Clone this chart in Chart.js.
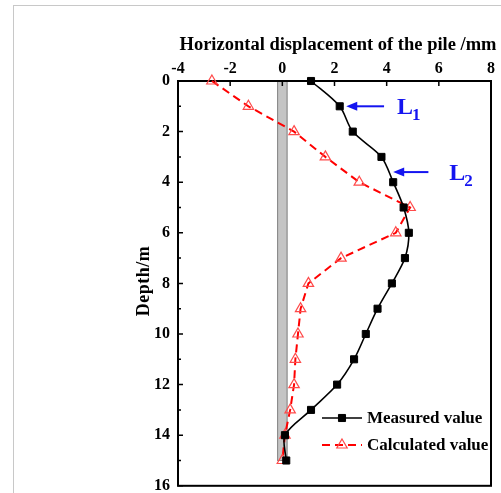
<!DOCTYPE html>
<html>
<head>
<meta charset="utf-8">
<script src="https://cdn.jsdelivr.net/npm/chart.js@4.4.1/dist/chart.umd.min.js"></script>
<style>
  html, body { margin: 0; padding: 0; background: #fff; }
  #wrap { position: relative; width: 501px; height: 493px; overflow: hidden; }
  #frame { position: absolute; left: 13px; top: 5px; width: 600px; height: 600px; border: 1px solid #c8c8c8; }
  #pile { position: absolute; left: 0; top: 0; }
</style>
</head>
<body>
<div id="wrap">
  <div id="frame"></div>
  <canvas id="pile" width="501" height="493"></canvas>
</div>
<script>
// depth below ground (m) and horizontal displacement (mm)
const depths = [0, 1, 2, 3, 4, 5, 6, 7, 8, 9, 10, 11, 12, 13, 14, 15];
const measured = [1.1, 2.2, 2.7, 3.8, 4.25, 4.65, 4.85, 4.7, 4.2, 3.65, 3.2, 2.75, 2.1, 1.1, 0.1, 0.15];
const calculated = [-2.7, -1.3, 0.45, 1.65, 2.95, 4.9, 4.35, 2.25, 1.0, 0.7, 0.6, 0.5, 0.45, 0.3, 0.1, 0.0];

// pile body: x extent (mm units) and depth extent (m)
const pileX = [-0.2, 0.2];
const pileDepth = [0, 15];

const seriesNames = ['Measured value', 'Calculated value'];

// arrows pointing at the two reference depths
const arrowNotes = [
  { sub: '1', depth: 1.0, tipX: 2.45, tailX: 3.9, labelX: 4.4 },
  { sub: '2', depth: 3.6, tipX: 4.25, tailX: 5.6, labelX: 6.4 },
];

const SERIF = '"Liberation Serif", "Times New Roman", serif';
const toPoints = (xs) => xs.map((v, i) => ({ x: v, y: depths[i] }));

const pileBand = {
  id: 'pileBand',
  beforeDatasetsDraw(chart) {
    const { ctx, chartArea: a, scales: { x, y } } = chart;
    const l = x.getPixelForValue(pileX[0]);
    const r = x.getPixelForValue(pileX[1]);
    const t = y.getPixelForValue(pileDepth[0]);
    const b = y.getPixelForValue(pileDepth[1]);
    ctx.save();
    ctx.fillStyle = '#c4c4c4';
    ctx.fillRect(l, t, r - l, b - t);
    ctx.strokeStyle = '#858585';
    ctx.lineWidth = 1;
    ctx.strokeRect(l + 0.5, t, r - l - 1, b - t);

    // box frame
    ctx.strokeStyle = '#000';
    ctx.lineWidth = 2;
    ctx.strokeRect(a.left, a.top, a.right - a.left, a.bottom - a.top);

    // inward tick marks
    ctx.lineWidth = 1.5;
    ctx.beginPath();
    x.ticks.forEach((tk) => {
      const px = x.getPixelForValue(tk.value);
      ctx.moveTo(px, a.top);
      ctx.lineTo(px, a.top + 5);
    });
    y.ticks.forEach((tk) => {
      const py = y.getPixelForValue(tk.value);
      const len = tk.value % 2 === 0 ? 5 : 3;
      ctx.moveTo(a.left, py);
      ctx.lineTo(a.left + len, py);
    });
    ctx.stroke();
    ctx.restore();
  },
};

const decorations = {
  id: 'decorations',
  afterDraw(chart) {
    const { ctx, scales: { x, y } } = chart;
    ctx.save();

    // axis titles
    ctx.fillStyle = '#000';
    ctx.font = 'bold 18.5px ' + SERIF;
    ctx.textAlign = 'center';
    ctx.textBaseline = 'middle';
    ctx.fillText('Horizontal displacement of the pile /mm', 338, 45);

    ctx.save();
    ctx.translate(144, 281);
    ctx.rotate(-Math.PI / 2);
    ctx.font = 'bold 18px ' + SERIF;
    ctx.letterSpacing = '0.5px';
    ctx.fillText('Depth/m', 0, 0);
    ctx.restore();

    // L1 / L2 arrows
    const blue = '#1414f0';
    arrowNotes.forEach((n) => {
      const py = y.getPixelForValue(n.depth);
      const tip = x.getPixelForValue(n.tipX);
      const tail = x.getPixelForValue(n.tailX);
      ctx.strokeStyle = blue;
      ctx.fillStyle = blue;
      ctx.lineWidth = 2;
      ctx.beginPath();
      ctx.moveTo(tail, py);
      ctx.lineTo(tip + 8, py);
      ctx.stroke();
      ctx.beginPath();
      ctx.moveTo(tip, py);
      ctx.lineTo(tip + 11, py - 4.5);
      ctx.lineTo(tip + 11, py + 4.5);
      ctx.closePath();
      ctx.fill();

      const lx = x.getPixelForValue(n.labelX);
      ctx.textAlign = 'left';
      ctx.textBaseline = 'alphabetic';
      ctx.font = 'bold 24px ' + SERIF;
      ctx.fillText('L', lx, py + 8);
      const w = ctx.measureText('L').width;
      ctx.font = 'bold 17px ' + SERIF;
      ctx.fillText(n.sub, lx + w - 1, py + 14);
    });

    // legend
    const rows = [
      { ds: chart.data.datasets[0], y: 418 },
      { ds: chart.data.datasets[1], y: 445 },
    ];
    rows.forEach((row) => {
      const ds = row.ds;
      ctx.strokeStyle = ds.borderColor;
      ctx.lineWidth = ds.borderWidth;
      ctx.setLineDash(ds.borderDash || []);
      ctx.beginPath();
      ctx.moveTo(322, row.y);
      ctx.lineTo(362, row.y);
      ctx.stroke();
      ctx.setLineDash([]);
      ctx.fillStyle = ds.pointBackgroundColor;
      ctx.strokeStyle = ds.pointBorderColor;
      ctx.lineWidth = ds.pointBorderWidth;
      Chart.helpers.drawPoint(ctx, {
        pointStyle: ds.pointStyle,
        radius: ds.pointRadius,
        borderWidth: ds.pointBorderWidth,
        rotation: 0,
      }, 342, row.y);

      ctx.fillStyle = '#000';
      ctx.font = 'bold 17px ' + SERIF;
      ctx.textAlign = 'left';
      ctx.textBaseline = 'middle';
      ctx.fillText(ds.label, 367, row.y + 1);
    });
    ctx.restore();
  },
};

new Chart(document.getElementById('pile'), {
  type: 'scatter',
  data: {
    datasets: [
      {
        label: seriesNames[0],
        data: toPoints(measured),
        showLine: true,
        tension: 0.3,
        borderColor: '#000',
        borderWidth: 1.6,
        pointStyle: 'rect',
        pointRadius: 5,
        pointBorderWidth: 1,
        pointBackgroundColor: '#000',
        pointBorderColor: '#000',
        clip: false,
      },
      {
        label: seriesNames[1],
        data: toPoints(calculated),
        showLine: true,
        tension: 0,
        borderColor: '#ff0000',
        borderWidth: 2,
        borderDash: [8, 5],
        pointStyle: 'triangle',
        pointRadius: 6,
        pointBorderWidth: 1.2,
        pointBackgroundColor: 'rgba(255,255,255,0)',
        pointBorderColor: '#ff4a4a',
        clip: false,
      },
    ],
  },
  options: {
    responsive: false,
    animation: false,
    layout: { padding: { left: 0, top: 0, right: 10, bottom: 6 } },
    plugins: { legend: { display: false }, tooltip: { enabled: false } },
    scales: {
      x: {
        type: 'linear',
        position: 'top',
        min: -4,
        max: 8,
        grid: { display: false, drawTicks: false },
        border: { display: false },
        ticks: {
          stepSize: 2,
          padding: 3,
          color: '#000',
          font: { family: SERIF, size: 16, weight: 'bold' },
        },
        afterFit(scale) {
          scale.height = 81;
          scale.paddingLeft = 0;
          scale.paddingRight = 0;
        },
      },
      y: {
        type: 'linear',
        reverse: true,
        min: 0,
        max: 16,
        grid: { display: false, drawTicks: false },
        border: { display: false },
        ticks: {
          stepSize: 1,
          autoSkip: false,
          padding: 8,
          color: '#000',
          font: { family: SERIF, size: 16, weight: 'bold' },
          callback: (v) => (v % 2 === 0 ? v : ''),
        },
        afterFit(scale) {
          scale.width = 178;
          scale.paddingTop = 0;
          scale.paddingBottom = 0;
        },
      },
    },
  },
  plugins: [pileBand, decorations],
});
</script>
</body>
</html>
